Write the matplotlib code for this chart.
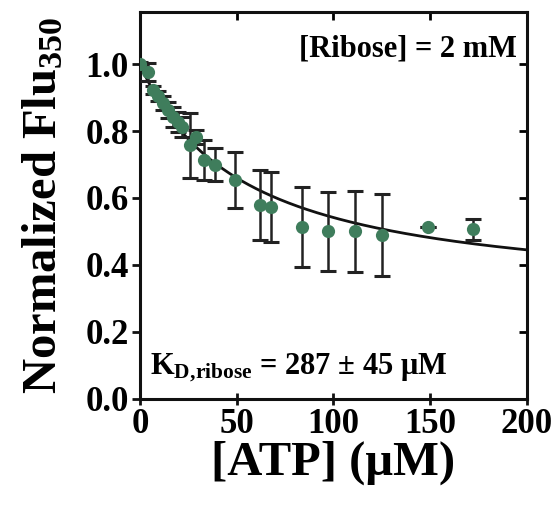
import numpy as np
import matplotlib
matplotlib.use("Agg")
import matplotlib.pyplot as plt

# ---- data ----
atp_uM = [0, 4, 7, 9.5, 12, 14.5, 17, 19.5, 22, 26, 29, 33, 39, 49, 62, 68, 84, 97, 111, 125, 149, 172]
flu_norm = [1.00, 0.976, 0.922, 0.905, 0.884, 0.863, 0.842, 0.827, 0.812, 0.758, 0.782, 0.713,
            0.700, 0.654, 0.580, 0.573, 0.513, 0.500, 0.500, 0.490, 0.513, 0.507]
flu_err = [0.005, 0.027, 0.012, 0.015, 0.02, 0.025, 0.03, 0.03, 0.03, 0.097, 0.02, 0.06,
           0.05, 0.084, 0.104, 0.104, 0.12, 0.117, 0.12, 0.122, 0.0, 0.031]
# hyperbolic fit parameters (amplitude, apparent K)
fit_amp = 0.703
fit_k = 53.4
x_ticks = [0, 50, 100, 150, 200]
y_ticks = [0.0, 0.2, 0.4, 0.6, 0.8, 1.0]

plt.rcParams['font.family'] = ['Liberation Serif', 'DejaVu Serif']
plt.rcParams['font.weight'] = 'bold'
plt.rcParams['mathtext.fontset'] = 'custom'
plt.rcParams['mathtext.rm'] = 'Liberation Serif:bold'
plt.rcParams['mathtext.bf'] = 'Liberation Serif:bold'
plt.rcParams['mathtext.it'] = 'Liberation Serif:bold'

fig = plt.figure(figsize=(5.55, 5.05), dpi=100)
ax = fig.add_axes([0.252, 0.21, 0.6975, 0.766])

xf = np.linspace(0, 200, 300)
yf = 1 - fit_amp * xf / (fit_k + xf)
ax.plot(xf, yf, color='#111111', lw=2.0, zorder=2)

ax.errorbar(atp_uM, flu_norm, yerr=flu_err, fmt='none', ecolor='#222222',
            elinewidth=1.8, capsize=5.5, capthick=2.2, zorder=3)
ax.plot(atp_uM, flu_norm, 'o', color='#3f7d5c', ms=9.5, mec='none', zorder=4)

ax.set_xlim(0, 200)
ax.set_ylim(0, 1.155)
ax.set_xticks(x_ticks)
ax.set_yticks(y_ticks)
ax.set_yticklabels([f"{v:.1f}" for v in y_ticks])

for s in ax.spines.values():
    s.set_linewidth(2.2)
    s.set_color('#111111')

ax.tick_params(axis='both', which='major', labelsize=25, width=2, length=6, color='#111111', pad=2)
ax.tick_params(axis='x', direction='inout', length=9)
ax.tick_params(axis='y', direction='out')
ax_t = ax.secondary_xaxis('top')
ax_t.set_xticks(x_ticks)
ax_t.tick_params(direction='in', length=6, width=2, labeltop=False)
ax_t.spines['top'].set_visible(False)
ax_r = ax.secondary_yaxis('right')
ax_r.set_yticks(y_ticks)
ax_r.tick_params(direction='in', length=6, width=2, labelright=False)
ax_r.spines['right'].set_visible(False)

ax.set_xlabel('[ATP] (μM)', fontsize=35, fontweight='bold', labelpad=0)
ax.set_ylabel(r'Normalized Flu$_{\mathbf{350}}$', fontsize=35, fontweight='bold', labelpad=14)

ax.text(0.975, 0.905, '[Ribose] = 2 mM', transform=ax.transAxes, ha='right', va='center',
        fontsize=22, fontweight='bold')
ax.text(0.025, 0.08, r'K$_{\mathbf{D,\!ribose}}$ = 287 ± 45 μM', transform=ax.transAxes,
        ha='left', va='center', fontsize=22, fontweight='bold')

fig.savefig('out.png', dpi=100)
